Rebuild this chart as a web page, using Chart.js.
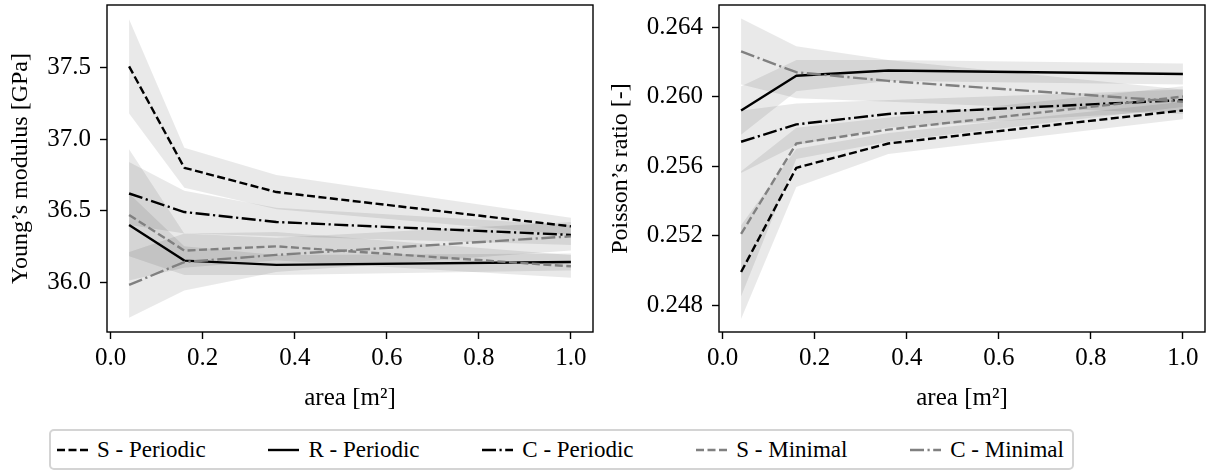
<!DOCTYPE html>
<html>
<head>
<meta charset="utf-8">
<script src="https://cdn.jsdelivr.net/npm/chart.js@4.4.0/dist/chart.umd.min.js"></script>
<style>
  html, body { margin: 0; padding: 0; background: #fff; }
  #fig { position: relative; width: 1212px; height: 472px; overflow: hidden; font-family: 'Liberation Serif', serif; }
  #left  { position: absolute; left: 0;   top: 0; }
  #right { position: absolute; left: 600px; top: 0; }
  #legend {
    position: absolute; left: 49px; top: 429px; width: 1025px; height: 41px;
    box-sizing: border-box; border: 2px solid #d4d4d4; border-radius: 5px;
    display: flex; align-items: center; justify-content: space-between;
    padding: 0 8px 0 6px; font-size: 23px; color: #000;
  }
  .item { display: flex; align-items: center; gap: 9px; white-space: nowrap; }
  .item svg { display: block; }
</style>
</head>
<body>
<div id="fig">
  <canvas id="left" width="600" height="420"></canvas>
  <canvas id="right" width="612" height="420"></canvas>
  <div id="legend"></div>
</div>
<script>
// ---- data ----
const area = [0.04, 0.16, 0.36, 1.0];
const seriesNames = ['S - Periodic', 'R - Periodic', 'C - Periodic', 'S - Minimal', 'C - Minimal'];

// Young's modulus [GPa], mean
const eSPer = [37.51, 36.80, 36.63, 36.39];
const eRPer = [36.40, 36.15, 36.12, 36.14];
const eCPer = [36.62, 36.49, 36.42, 36.33];
const eSMin = [36.47, 36.22, 36.25, 36.11];
const eCMin = [35.98, 36.14, 36.19, 36.32];
// Young's modulus, spread (shaded band half-width)
const eSPerSd = [0.33, 0.14, 0.12, 0.06];
const eRPerSd = [0.22, 0.10, 0.07, 0.06];
const eCPerSd = [0.22, 0.15, 0.10, 0.07];
const eSMinSd = [0.46, 0.12, 0.10, 0.08];
const eCMinSd = [0.23, 0.20, 0.12, 0.10];

// Poisson's ratio [-], mean
const nuSPer = [0.2499, 0.2559, 0.2573, 0.2592];
const nuRPer = [0.2592, 0.2612, 0.2615, 0.2613];
const nuCPer = [0.2574, 0.2584, 0.2590, 0.2598];
const nuSMin = [0.2521, 0.2573, 0.2581, 0.2600];
const nuCMin = [0.2626, 0.2614, 0.2609, 0.2597];
// Poisson's ratio, spread
const nuSPerSd = [0.0027, 0.0011, 0.0006, 0.0005];
const nuRPerSd = [0.0014, 0.0009, 0.0006, 0.0006];
const nuCPerSd = [0.0018, 0.0012, 0.0008, 0.0006];
const nuSMinSd = [0.0036, 0.0009, 0.0007, 0.0006];
const nuCMinSd = [0.0019, 0.0015, 0.0012, 0.0007];

// tick labels
const xTicks = [0.0, 0.2, 0.4, 0.6, 0.8, 1.0];
const eTicks = [36.0, 36.5, 37.0, 37.5];
const nuTicks = [0.248, 0.252, 0.256, 0.260, 0.264];

// ---- styles ----
const colors = ['#000000', '#000000', '#000000', '#808080', '#808080'];
const dashes = [[8, 3.5], [], [14, 3.5, 2.2, 3.5], [8, 3.5], [14, 3.5, 2.2, 3.5]];
const bandColor = 'rgba(0,0,0,0.085)';
const FONT = "'Liberation Serif', serif";

Chart.defaults.font.family = FONT;
Chart.defaults.color = '#000';

function buildDatasets(means, sds) {
    const ds = [];
    means.forEach((m, i) => {
        ds.push({
            data: area.map((x, k) => ({ x, y: m[k] - sds[i][k] })),
            borderWidth: 0, pointRadius: 0, fill: false, order: 20,
        });
        ds.push({
            data: area.map((x, k) => ({ x, y: m[k] + sds[i][k] })),
            borderWidth: 0, pointRadius: 0, fill: '-1', backgroundColor: bandColor, order: 20,
        });
    });
    means.forEach((m, i) => {
        ds.push({
            label: seriesNames[i],
            data: area.map((x, k) => ({ x, y: m[k] })),
            borderColor: colors[i],
            borderWidth: 2.4,
            borderDash: dashes[i],
            borderJoinStyle: 'round',
            pointRadius: 0,
            fill: false,
            order: 10 - i,
        });
    });
    return ds;
}

// full box around the axes (matplotlib spines)
const boxPlugin = {
    id: 'box',
    afterDatasetsDraw(chart) {
        const { ctx, chartArea: a } = chart;
        ctx.save();
        ctx.strokeStyle = '#000';
        ctx.lineWidth = 1.4;
        ctx.strokeRect(a.left, a.top, a.right - a.left, a.bottom - a.top);
        ctx.restore();
    },
};

function noPad(s) {
    s.paddingTop = 0; s.paddingBottom = 0; s.paddingLeft = 0; s.paddingRight = 0;
}

function makeChart(id, datasets, yMin, yMax, yDigits, yTitle, yWidth, yTickList) {
    const tickGrid = {
        display: true, drawOnChartArea: false, drawTicks: true,
        tickLength: 7, tickWidth: 1.4, tickColor: '#000',
    };
    return new Chart(document.getElementById(id), {
        type: 'line',
        data: { datasets },
        options: {
            responsive: false,
            animation: false,
            layout: { autoPadding: false, padding: { top: 5, right: 7, bottom: 0, left: 0 } },
            plugins: { legend: { display: false }, tooltip: { enabled: false } },
            scales: {
                x: {
                    type: 'linear',
                    min: -0.008, max: 1.048,
                    grid: tickGrid,
                    border: { display: false },
                    afterBuildTicks: (s) => { s.ticks = xTicks.map(v => ({ value: v })); },
                    afterFit: (s) => { s.height = 88; noPad(s); },
                    ticks: {
                        font: { size: 25 }, padding: 4, maxRotation: 0,
                        callback: (v) => Number(v).toFixed(1),
                    },
                    title: { display: true, text: 'area [m²]', font: { size: 25 }, padding: { bottom: 7 } },
                },
                y: {
                    type: 'linear',
                    min: yMin, max: yMax,
                    grid: tickGrid,
                    border: { display: false },
                    afterBuildTicks: (s) => { s.ticks = yTickList.map(v => ({ value: v })); },
                    afterFit: (s) => { s.width = yWidth; noPad(s); },
                    ticks: {
                        font: { size: 25 }, padding: 9,
                        callback: (v) => Number(v).toFixed(yDigits),
                    },
                    title: { display: true, text: yTitle, font: { size: 24 }, padding: { top: 6 } },
                },
            },
        },
        plugins: [boxPlugin],
    });
}

makeChart('left',
    buildDatasets([eSPer, eRPer, eCPer, eSMin, eCMin], [eSPerSd, eRPerSd, eCPerSd, eSMinSd, eCMinSd]),
    35.65, 37.94, 1, 'Young\u2019s modulus [GPa]', 107, eTicks);

makeChart('right',
    buildDatasets([nuSPer, nuRPer, nuCPer, nuSMin, nuCMin], [nuSPerSd, nuRPerSd, nuCPerSd, nuSMinSd, nuCMinSd]),
    0.24645, 0.26527, 3, 'Poisson\u2019s ratio [-]', 119, nuTicks);

// ---- shared legend ----
const legend = document.getElementById('legend');
seriesNames.forEach((name, i) => {
    const item = document.createElement('div');
    item.className = 'item';
    const dash = dashes[i].length ? `stroke-dasharray="${dashes[i].join(' ')}"` : '';
    item.innerHTML =
        `<svg width="31" height="10"><line x1="0" y1="5" x2="31" y2="5" stroke="${colors[i]}" stroke-width="2.4" ${dash}/></svg>` +
        `<span>${name}</span>`;
    legend.appendChild(item);
});
</script>
</body>
</html>
